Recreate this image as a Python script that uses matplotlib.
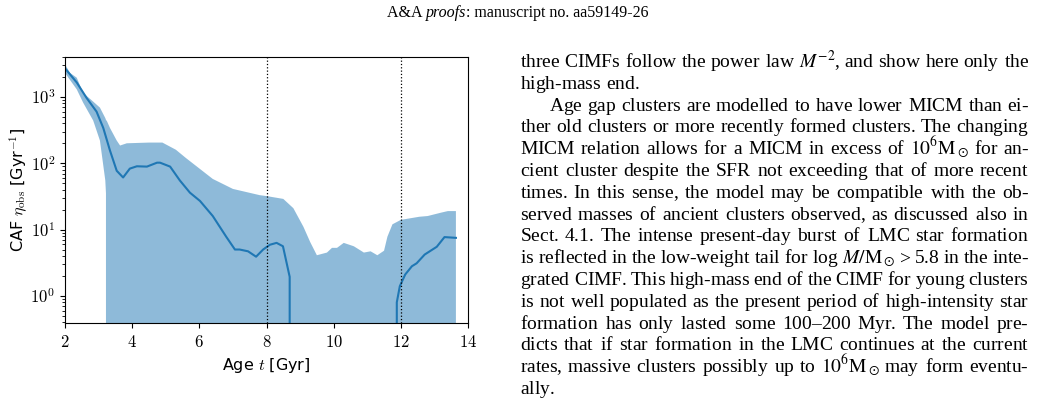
import numpy as np
import matplotlib
matplotlib.use("Agg")
import matplotlib.pyplot as plt
from matplotlib.ticker import FixedLocator, FuncFormatter

# mean CAF curve
age_mean = [2.0, 2.35, 2.64, 2.94, 3.14, 3.34, 3.54, 3.73, 3.93, 4.14, 4.44, 4.74,
            4.83, 5.13, 5.42, 5.72, 6.02, 6.4, 6.8, 7.06, 7.2, 7.45, 7.69, 7.9,
            8.1, 8.3, 8.49, 8.69, 8.71, 11.87, 11.88, 11.97, 12.13, 12.33, 12.47,
            12.71, 13.07, 13.3, 13.64]
caf_mean = [2700, 1650, 970, 600, 340, 155, 77, 61, 83, 90, 89, 102,
            102, 89, 55, 36, 27, 16, 7.8, 5.0, 5.0, 4.7, 3.9, 5.0,
            5.9, 6.3, 5.6, 1.94, 0, 0, 0.8, 1.4, 2.1, 2.8, 3.1,
            4.2, 5.5, 7.7, 7.5]

# spread band
age_band = [2.0, 2.15, 2.35, 2.54, 2.84, 3.04, 3.2, 3.22, 3.25, 3.34, 3.54, 3.64,
            3.84, 4.5, 4.9, 5.3, 5.6, 6.4, 7.0, 7.8, 8.0, 8.5, 8.8, 9.1, 9.3,
            9.5, 9.8, 9.95, 10.1, 10.3, 10.6, 10.9, 11.1, 11.3, 11.5, 11.6,
            11.75, 12.0, 12.55, 12.8, 13.2, 13.4, 13.64]
band_hi = [3100, 2300, 1950, 1150, 850, 690, 480, 450, 430, 340, 220, 185,
           200, 205, 205, 160, 120, 58, 41, 33, 32, 29, 21, 11, 6.5,
           4.1, 4.5, 5.3, 5.3, 6.3, 5.6, 4.5, 4.7, 4.1, 4.8, 7.8,
           12, 14, 15.6, 16, 18, 19, 19]
band_lo = [2300, 1800, 1300, 820, 440, 220, 55, 35, 0, 0, 0, 0,
           0, 0, 0, 0, 0, 0, 0, 0, 0, 0, 0, 0, 0,
           0, 0, 0, 0, 0, 0, 0, 0, 0, 0, 0,
           0, 0, 0, 0, 0, 0, 0]

marker_ages = [8, 12]
xticks = [2, 4, 6, 8, 10, 12, 14]
yticks = [1, 10, 100, 1000]

header = [("A&A ", 'normal'), ("proofs", 'italic'), (": manuscript no. aa59149-26", 'normal')]

body = [
    ("three CIMFs follow the power law $M^{-2}$, and show here only the", "j"),
    ("high-mass end.", "l"),
    ("Age gap clusters are modelled to have lower MICM than ei-", "ji"),
    ("ther old clusters or more recently formed clusters. The changing", "j"),
    (r"MICM relation allows for a MICM in excess of $10^6\mathrm{M}_\odot$ for an-", "j"),
    ("cient cluster despite the SFR not exceeding that of more recent", "j"),
    ("times. In this sense, the model may be compatible with the ob-", "j"),
    ("served masses of ancient clusters observed, as discussed also in", "j"),
    ("Sect. 4.1. The intense present-day burst of LMC star formation", "j"),
    (r"is reflected in the low-weight tail for log $M/\mathrm{M}_\odot$ > 5.8 in the inte-", "j"),
    ("grated CIMF. This high-mass end of the CIMF for young clusters", "j"),
    ("is not well populated as the present period of high-intensity star", "j"),
    ("formation has only lasted some 100\u2013200 Myr. The model pre-", "j"),
    ("dicts that if star formation in the LMC continues at the current", "j"),
    (r"rates, massive clusters possibly up to $10^6\mathrm{M}_\odot$ may form eventu-", "j"),
    ("ally.", "l"),
]

plt.rcParams['mathtext.fontset'] = 'cm'
W, H = 1037, 398
fig = plt.figure(figsize=(W / 100, H / 100), dpi=100)
ax = fig.add_axes([65 / W, 1 - 323 / H, (468 - 65) / W, (323 - 57) / H])

ax.fill_between(age_band, band_lo, band_hi, color='#1f77b4', alpha=0.5, lw=0)
ax.plot(age_mean, caf_mean, color='#1f77b4', lw=1.5)
for a in marker_ages:
    ax.axvline(a, color='k', ls=':', lw=0.9)

ax.set_yscale('log')
ax.set_xlim(2, 14)
ax.set_ylim(0.39, 4000)
ax.xaxis.set_major_locator(FixedLocator(xticks))
ax.xaxis.set_major_formatter(FuncFormatter(lambda v, p: r'$%d$' % v))
ax.yaxis.set_major_locator(FixedLocator(yticks))
ax.yaxis.set_major_formatter(FuncFormatter(lambda v, p: r'$10^{%d}$' % round(np.log10(v))))
ax.tick_params(labelsize=12)
ax.set_xlabel(r'Age $t$ [Gyr]', fontsize=11.5)
ax.set_ylabel(r'CAF $\eta_{\rm obs}$ [Gyr$^{-1}$]', fontsize=11.5, labelpad=1)

# page text, justified by hand
# every word goes through mathtext ("${}$") so all words share one baseline
renderer = fig.canvas.get_renderer()
left, right, indent = 520, 1029, 549
fs = 14
for i, (line, mode) in enumerate(body):
    yb = 1 - round(67 + 21.8 * i) / H
    words = line.split(' ')
    texts = [fig.text(0, yb, w if '$' in w else w + '${}$', fontsize=fs,
                      family='Liberation Serif', math_fontfamily='stix',
                      va='baseline') for w in words]
    widths = [t.get_window_extent(renderer).width for t in texts]
    x0 = indent if 'i' in mode else left
    if mode.startswith('j') and len(words) > 1:
        gap = (right - x0 - sum(widths)) / (len(words) - 1)
    else:
        gap = fs * 100 / 72 * 0.25
    x = x0
    for t, w in zip(texts, widths):
        t.set_x(round(x) / W)
        x += w + gap

hs = [fig.text(0, 1 - 17 / H, s, fontsize=11.5, family='Liberation Serif',
               style=st, va='baseline') for s, st in header]
hw = [t.get_window_extent(renderer).width for t in hs]
x = 518 - sum(hw) / 2
for t, w in zip(hs, hw):
    t.set_x(x / W)
    x += w

fig.savefig('out.png', dpi=100)
